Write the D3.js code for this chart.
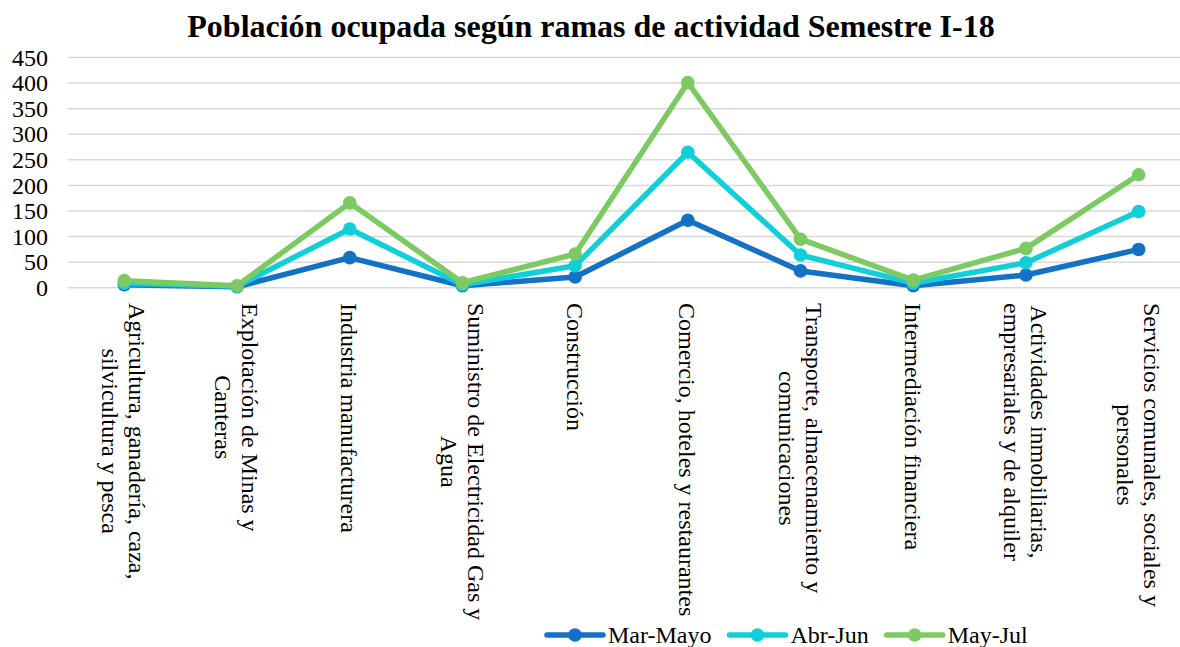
<!DOCTYPE html>
<html>
<head>
<meta charset="utf-8">
<script src="https://cdn.jsdelivr.net/npm/d3@7"></script>
<style>
  body { margin: 0; background: #fff; }
  svg { display: block; font-family: "Liberation Serif", "Times New Roman", serif; }
</style>
</head>
<body>
<div id="chart"></div>
<script>
// categorias (con saltos de linea como en el grafico)
var categories = [
  "Agricultura, ganadería, caza,\nsilvicultura y pesca",
  "Explotación de Minas y\nCanteras",
  "Industria manufacturera",
  "Suministro de Electricidad Gas y\nAgua",
  "Construcción",
  "Comercio, hoteles y restaurantes",
  "Transporte, almacenamiento y\ncomunicaciones",
  "Intermediación financiera",
  "Actividades inmobiliarias,\nempresariales y de alquiler",
  "Servicios comunales, sociales y\npersonales"
];
var seriesNames = ["Mar-Mayo", "Abr-Jun", "May-Jul"];
var marMayo = [5, 1, 58, 3, 20, 131, 32, 3, 24, 74];
var abrJun  = [8, 2, 114, 5, 42, 264, 63, 8, 48, 148];
var mayJul  = [13, 3, 165, 9, 65, 400, 94, 14, 76, 220];
var yTicks = [0, 50, 100, 150, 200, 250, 300, 350, 400, 450];
var colors = ["#1371c6", "#10cfd8", "#7eca62"];

var W = 1180, H = 647;
var svg = d3.select("#chart").append("svg").attr("width", W).attr("height", H);

var x = d3.scaleBand().domain(d3.range(categories.length)).range([68, 1195]);
var y = d3.scaleLinear().domain([0, 450]).range([287.3, 57]);

// titulo
svg.append("text")
  .attr("x", 591).attr("y", 37)
  .attr("text-anchor", "middle")
  .attr("font-weight", "bold")
  .attr("font-size", 32)
  .attr("fill", "#000")
  .text("Población ocupada según ramas de actividad Semestre I-18");

// grilla
var yAxis = d3.axisLeft(y).tickValues(yTicks).tickSize(-(1195 - 68)).tickPadding(20);
var gy = svg.append("g").attr("transform", "translate(68,0)").call(yAxis);
gy.select(".domain").remove();
gy.selectAll(".tick line").attr("stroke", "#d9d9d9").attr("stroke-width", 1.5);
gy.selectAll(".tick text")
  .attr("font-size", 24).attr("fill", "#000")
  .attr("font-family", "Liberation Serif, Times New Roman, serif")
  .attr("dy", "0.34em");

// etiquetas de categorias (rotadas 90 grados)
var lh = 27;
categories.forEach(function(c, i) {
  var lines = c.split("\n");
  var cx = x(i) + x.bandwidth() / 2;
  var g = svg.append("g").attr("transform", "translate(" + cx + ",303) rotate(90)");
  var texts = lines.map(function(l, j) {
    return g.append("text")
      .attr("font-size", 24).attr("fill", "#000")
      .attr("text-anchor", "middle")
      .attr("y", (j - (lines.length - 1) / 2) * lh)
      .attr("dy", "0.35em")
      .text(l);
  });
  var maxW = d3.max(texts, function(t) { return t.node().getComputedTextLength(); });
  texts.forEach(function(t) { t.attr("x", maxW / 2); });
});

// series
var allSeries = [marMayo, abrJun, mayJul];
var line = d3.line()
  .x(function(d, i) { return x(i) + x.bandwidth() / 2; })
  .y(function(d) { return y(d); });

allSeries.forEach(function(s, k) {
  svg.append("path")
    .datum(s)
    .attr("d", line)
    .attr("fill", "none")
    .attr("stroke", colors[k])
    .attr("stroke-width", 5.5)
    .attr("stroke-linejoin", "round");
  svg.selectAll(".m" + k).data(s).enter().append("circle")
    .attr("class", "m" + k)
    .attr("cx", function(d, i) { return x(i) + x.bandwidth() / 2; })
    .attr("cy", function(d) { return y(d); })
    .attr("r", 6.8)
    .attr("fill", colors[k]);
});

// leyenda
var lx = 547, ly = 635;
seriesNames.forEach(function(n, k) {
  var g = svg.append("g").attr("transform", "translate(" + lx + "," + ly + ")");
  g.append("line").attr("x1", 0).attr("x2", 56).attr("y1", 0).attr("y2", 0)
    .attr("stroke", colors[k]).attr("stroke-width", 5.5).attr("stroke-linecap", "round");
  g.append("circle").attr("cx", 28).attr("cy", 0).attr("r", 6.8).attr("fill", colors[k]);
  var t = g.append("text").attr("x", 61).attr("y", 0).attr("dy", "0.35em")
    .attr("font-size", 24).attr("fill", "#000").text(n);
  lx += 61 + t.node().getComputedTextLength() + 18;
});
</script>
</body>
</html>
